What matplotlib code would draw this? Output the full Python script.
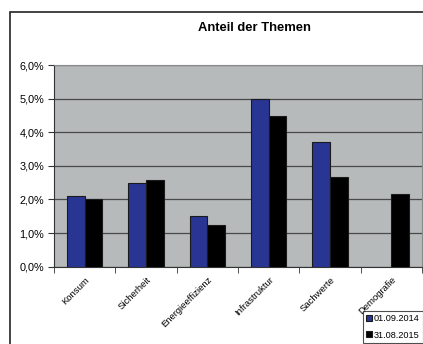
import numpy as np
import matplotlib.pyplot as plt
from matplotlib.patches import Rectangle
from matplotlib.ticker import FuncFormatter

plt.rcParams['font.family'] = ['Liberation Sans', 'DejaVu Sans']

kategorien = ['Konsum', 'Sicherheit', 'Energieeffizienz', 'Infrastruktur', 'Sachwerte', 'Demografie']
werte_2014 = [2.1, 2.5, 1.5, 5.0, 3.72, np.nan]
werte_2015 = [2.0, 2.58, 1.24, 4.48, 2.68, 2.16]
serien = ['01.09.2014', '31.08.2015']

fig = plt.figure(figsize=(4.23, 3.44), dpi=100)

# outer chart frame (cut off at right and bottom)
fig.patches.append(Rectangle((10 / 423, -0.1), 1.2, 1 - 12 / 344 + 0.1,
                             transform=fig.transFigure, fill=False,
                             edgecolor='#222222', linewidth=1.2))

ax = fig.add_axes([54 / 423, 1 - 266.7 / 344, 368 / 423, 201.7 / 344])
ax.set_facecolor('#b6babb')

x = np.arange(len(kategorien))
b = 0.29
ax.bar(x - b / 2, werte_2014, b, color='#283593', edgecolor='#1a1a1a', linewidth=0.8, label=serien[0], zorder=3)
ax.bar(x + b / 2, werte_2015, b, color='#000000', edgecolor='#1a1a1a', linewidth=0.8, label=serien[1], zorder=3)

ax.set_xlim(-0.5, len(kategorien) - 0.5)
ax.set_ylim(0, 6)
ax.set_yticks(np.arange(0, 7, 1))
ax.yaxis.set_major_formatter(FuncFormatter(lambda v, p: f'{v:.1f}%'.replace('.', ',')))
ax.yaxis.grid(True, color='#4a4a4a', linewidth=0.9, zorder=1)

ax.set_xticks(x)
ax.set_xticklabels(kategorien, rotation=45, ha='right', rotation_mode='anchor', fontsize=6.8)
ax.set_xticks(np.arange(-0.5, len(kategorien), 1), minor=True)
ax.tick_params(axis='x', which='major', length=0, pad=6)
ax.tick_params(axis='x', which='minor', length=4, color='#333333')
ax.tick_params(axis='y', length=4, labelsize=7.8, color='#333333', pad=3)

for s in ['top', 'right']:
    ax.spines[s].set_color('#8a8a8a')
for s in ['left', 'bottom']:
    ax.spines[s].set_color('#333333')

fig.text(254 / 423, 1 - 28 / 344, 'Anteil der Themen', ha='center', va='center',
         fontsize=9.4, fontweight='bold')

leg = fig.legend(loc='upper left', bbox_to_anchor=(363 / 423, 1 - 311 / 344),
                 fontsize=6.6, frameon=True, fancybox=False, edgecolor='#222222',
                 handlelength=0.6, handleheight=0.6, handletextpad=0.25,
                 borderpad=0.35, labelspacing=0.8, borderaxespad=0)
leg.get_frame().set_linewidth(0.8)

fig.savefig('out.png', dpi=100)
